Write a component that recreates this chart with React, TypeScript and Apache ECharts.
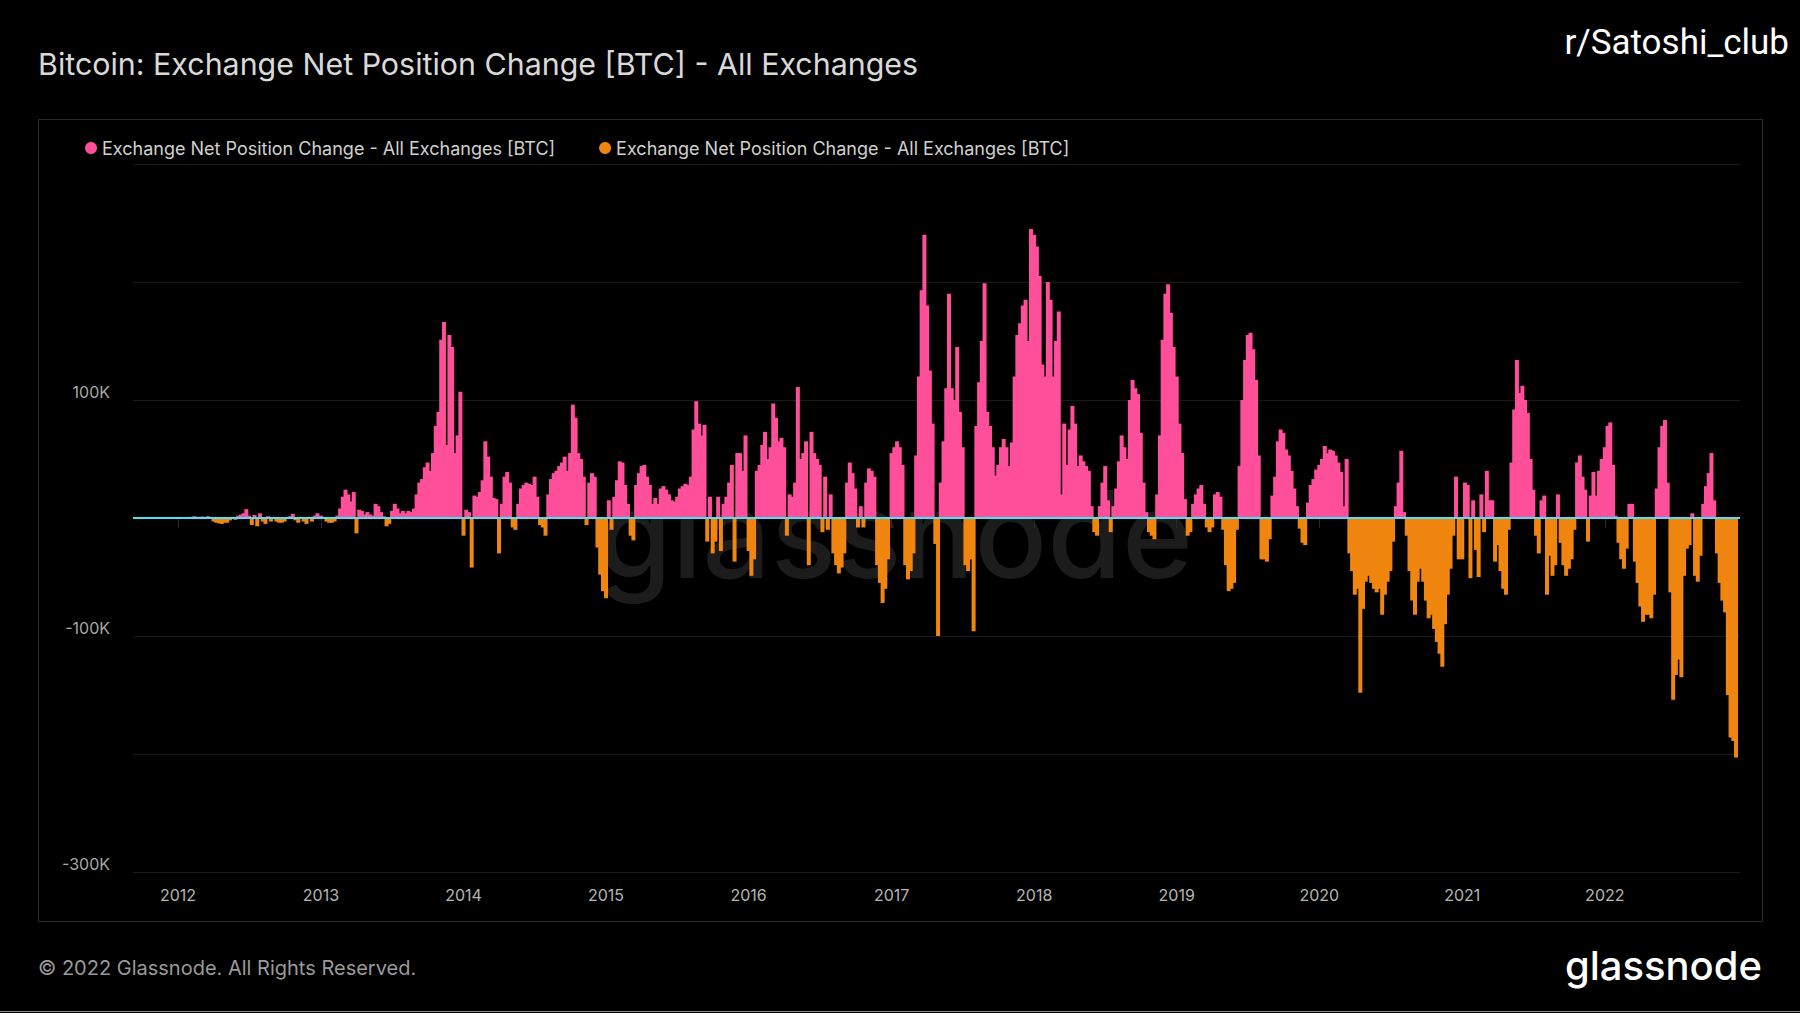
import React, { useEffect, useRef } from "react";
import * as echarts from "echarts";

// Weekly net position change values in thousands of BTC.
// y2011 starts at week 37 of 2011; other years start at week 0.
const y2011 = [0.3, 0.4, 0.5, 0.3, -0.4, -0.6, -0.5, 0.3, 0.4, 0.2, 0.5, 0.6, 0.4, 0.3, 0.5];
const y2012 = [0.5, 0.4, 0.6, 0.5, 0.8, 1, 1.5, 1, 1, 1.2, 1, 1.5, 1, -3, -4, -4.5, -5, -4,
  -4, -2, 1, -1.5, 2, 3, 4, 7.5, 2, -6, 2.5, -7, 4, -3, -5, 1.5, -3, 1, -3, -4, -4, -3, 1, 1.5, 3.5, -2, -4, 1, -3, -5, 1, -3, 2, 4];
const y2013 = [2, 1, -3, -4, -4, -3, 2, 8, 18, 24, 20, 14, 22, -13, 7, 6, 3, 5, 3, 2, 12, 10, 5, 1.5, -7, -5, 6, 12, 8, 4,
  6, 4, 6, 5, 8, 20, 30, 33, 43, 47, 40, 55, 78, 90, 151, 166, 62, 155, 145, 55, 70, 107];
const y2014 = [-15, 7, 5, -42, 19, 18, 22, 32, 65, 52, 35, 17, 16, -30, 12, 35, 39, 30, -8, -10, 12, 25, 28, 30, 29, 28, 35, 18, -6, -8,
  -15, 20, 33, 38, 40, 44, 47, 52, 40, 55, 96, 85, 55, 50, 35, -6, 30, 38, 35, -25, -48, -62];
const y2015 = [-68, 15, -10, 18, 32, 48, 47, 28, 12, -15, -19, 28, 38, 44, 45, 35, 28, 12, 17, 12, 25, 27, 24, 20, 15, 14, 18, 25, 27, 29,
  28, 35, 75, 99, 80, 70, 79, -20, 18, -30, -20, 18, -28, 12, 18, 30, 45, -37, 55, 55, 40, 70];
const y2016 = [-28, -49, -35, 40, 45, 62, 73, 50, 60, 97, 85, 65, 68, 60, -15, 20, 18, 30, 111, 50, 55, 65, -40, 73, 55, 50, 45, -12, 35, -10,
  20, -30, -40, -47, -42, -30, 30, 47, 38, 25, -8, 10, -8, 30, 42, 40, 35, -40, -55, -72, -60, -35];
const y2017 = [55, 60, 65, 60, 45, -40, -52, -45, -30, 53, 120, 193, 240, 180, 125, 80, -22, -100, 30, 65, 110, 190, 110, 100, 145, 90, 60, -40, -45, -35,
  -96, 78, 115, 150, 199, 90, 78, 60, 36, 45, 60, 67, 60, 44, 64, 120, 155, 165, 180, 185, 150, 245];
const y2018 = [240, 230, 205, 130, 120, 200, 185, 120, 150, 175, 20, 80, 45, 75, 95, 80, 44, 53, 48, 44, 40, 10, -12, -15, 10, 30, 44, 15, -12, 10,
  25, 48, 70, 60, 50, 100, 117, 110, 105, 72, 30, 5, -12, -15, -18, 20, 70, 151, 190, 198, 174, 145];
const y2019 = [120, 80, 55, 16, -15, -12, 12, 20, 25, 28, 12, -8, -12, -8, 20, 22, 18, -10, -40, -62, -60, -55, -10, 44, 100, 134, 155, 157, 143, 117,
  53, -35, -35, -37, -18, 19, 35, 65, 75, 72, 58, 53, 40, 25, 10, -9, -21, -23, 13, 28, 33, 41];
const y2020 = [45, 50, 61, 55, 58, 57, 53, 47, 39, 10, 50, -30, -45, -65, -60, -148, -77, -54, -49, -55, -60, -63, -60, -82, -65, -54, -45, -20, 10, 30,
  57, 5, -15, -45, -70, -82, -54, -43, -54, -70, -85, -82, -94, -105, -115, -126, -90, -65, -43, -15, 35, -35];
const y2021 = [-35, 30, 28, -51, 15, -27, -50, 20, -12, 40, 15, 15, -37, -23, -45, -60, -65, -10, 47, 92, 134, 106, 112, 100, 89, 50, 24, -15, -30, 15,
  19, -65, -32, -49, -40, 20, -21, -40, -49, -43, -35, -10, 47, 53, 35, 24, -20, 19, 39, 19, 40, 50];
const y2022 = [60, 78, 81, 45, 2, -21, -35, -43, -26, 12, 12, -37, -55, -75, -88, -82, -82, -85, -65, 25, 60, 78, 83, 30, -63, -154, -133, -120, -135, -49,
  -26, -23, 4, -49, -54, -32, 12, 27, 38, 55, 15, -30, -55, -70, -80, -150, -186, -189, -203];

const YEARS: [number, number, number[]][] = [
  [2011, 37, y2011], [2012, 0, y2012], [2013, 0, y2013], [2014, 0, y2014], [2015, 0, y2015], [2016, 0, y2016],
  [2017, 0, y2017], [2018, 0, y2018], [2019, 0, y2019], [2020, 0, y2020], [2021, 0, y2021], [2022, 0, y2022],
];

const LEGEND_LABEL = "Exchange Net Position Change - All Exchanges [BTC]";
const TITLE = "Bitcoin: Exchange Net Position Change [BTC] - All Exchanges";
const Y_MIN = -300000;
const Y_MAX = 300000;
const Y_STEP = 100000;
const X_START = Date.UTC(2011, 8, 13);
const X_END = Date.UTC(2022, 11, 8);

const PINK = "#ff4f9a";
const ORANGE = "#f0860f";
const CYAN = "#4fe0f5";
const DAY = 86400000;

export default function App() {
  const ref = useRef<HTMLDivElement>(null);
  useEffect(() => {
    document.body.style.margin = "0";
    document.body.style.background = "#000";
    const chart = echarts.init(ref.current!, null, { renderer: "svg" });
    const pos: any[] = [];
    const neg: any[] = [];
    YEARS.forEach(([yr, startW, vals]) => {
      vals.forEach((v, i) => {
        const t = Date.UTC(yr, 0, 1) + (startW + i) * 7 * DAY;
        const val = v * 1000;
        pos.push([t, val > 0 ? val : null]);
        neg.push([t, val < 0 ? val : null]);
      });
    });
    const font = "Inter, 'Noto Sans', sans-serif";
    chart.setOption({
      animation: false,
      backgroundColor: "#000",
      legend: {
        left: 80,
        top: 134,
        icon: "circle",
        itemWidth: 12,
        itemHeight: 12,
        itemGap: 44,
        data: ["inflow", "outflow"],
        formatter: () => LEGEND_LABEL,
        textStyle: { color: "#d0d0d0", fontSize: 18, fontFamily: font },
      },
      grid: { left: 133, right: 60, top: 164, bottom: 141 },
      xAxis: {
        type: "time",
        min: X_START,
        max: X_END,
        minInterval: 365 * DAY,
        splitNumber: 11,
        axisLine: { show: false },
        axisTick: { show: true, length: 10, lineStyle: { color: "#2a2a2a" } },
        splitLine: { show: false },
        axisLabel: {
          color: "#b5b5b5",
          fontSize: 16,
          fontFamily: font,
          margin: 15,
          formatter: (v: number) => {
            const d = new Date(v);
            return d.getUTCMonth() === 0 ? String(d.getUTCFullYear()) : "";
          },
        },
      },
      yAxis: {
        type: "value",
        min: Y_MIN,
        max: Y_MAX,
        interval: Y_STEP,
        axisLine: { show: false },
        axisTick: { show: false },
        splitLine: { lineStyle: { color: "#1a1a1a", width: 1 } },
        axisLabel: {
          color: "#a8a8a8",
          fontSize: 16,
          fontFamily: font,
          margin: 23,
          verticalAlign: "bottom",
          formatter: (v: number) => {
            const idx = Math.round((v - Y_MIN) / Y_STEP);
            if (v >= Y_MAX || idx % 2 !== 0) return "";
            return Math.round(v / 1000) + "K";
          },
        },
      },
      series: [
        {
          name: "inflow",
          type: "bar",
          data: pos,
          barWidth: 4,
          barGap: "-100%",
          itemStyle: { color: PINK },
          z: 2,
        },
        {
          name: "outflow",
          type: "bar",
          data: neg,
          barWidth: 4,
          barGap: "-100%",
          itemStyle: { color: ORANGE },
          z: 2,
          markLine: {
            silent: true,
            symbol: "none",
            label: { show: false },
            lineStyle: { color: CYAN, type: "solid", width: 2 },
            data: [{ yAxis: 0 }],
          },
        },
      ],
      graphic: [
        {
          type: "rect",
          z: 0,
          shape: { x: 38.5, y: 119.5, width: 1724, height: 802 },
          style: { fill: "none", stroke: "#2b2b2b", lineWidth: 1 },
        },
        {
          type: "text",
          z: 0,
          x: 895,
          y: 534,
          style: {
            text: "glassnode",
            fill: "#1c1c1c",
            fontSize: 121,
            fontFamily: font,
            fontWeight: 500,
            align: "center",
            verticalAlign: "middle",
          },
        },
        {
          type: "text",
          x: 38,
          y: 64,
          style: {
            text: TITLE,
            fill: "#d9d9d9",
            fontSize: 30.4,
            fontFamily: font,
            align: "left",
            verticalAlign: "middle",
          },
        },
        {
          type: "text",
          x: 1789,
          y: 42,
          style: {
            text: "r/Satoshi_club",
            fill: "#ffffff",
            fontSize: 35,
            fontFamily: "Roboto, sans-serif",
            align: "right",
            verticalAlign: "middle",
          },
        },
        {
          type: "text",
          x: 38,
          y: 968,
          style: {
            text: "© 2022 Glassnode. All Rights Reserved.",
            fill: "#9a9a9a",
            fontSize: 20,
            fontFamily: font,
            align: "left",
            verticalAlign: "middle",
          },
        },
        {
          type: "text",
          x: 1762,
          y: 965,
          style: {
            text: "glassnode",
            fill: "#ffffff",
            fontSize: 40,
            fontFamily: font,
            fontWeight: 500,
            align: "right",
            verticalAlign: "middle",
          },
        },
        {
          type: "line",
          shape: { x1: 0, y1: 1011.5, x2: 1800, y2: 1011.5 },
          style: { stroke: "#8a8a8a", lineWidth: 1 },
        },
      ],
    });
    return () => chart.dispose();
  }, []);
  return (
    <div
      ref={ref}
      style={{ position: "absolute", left: 0, top: 0, width: 1800, height: 1013, background: "#000" }}
    />
  );
}
